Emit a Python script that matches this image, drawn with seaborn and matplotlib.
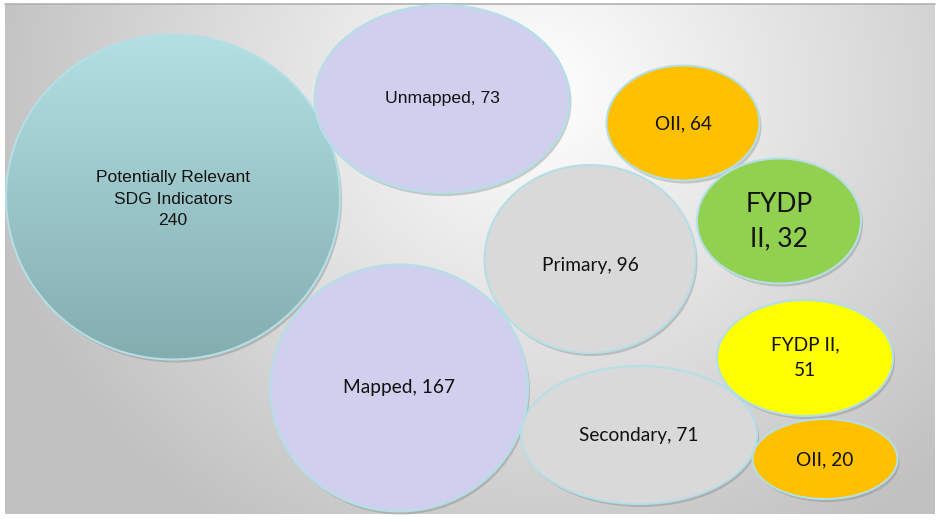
import matplotlib.pyplot as plt
import seaborn as sns
import numpy as np
from matplotlib.patches import Ellipse

# ---- data ----
names = ["Potentially Relevant\nSDG Indicators", "Unmapped", "Mapped",
         "Primary", "Secondary", "OII", "FYDP\nII", "FYDP II", "OII"]
values = [240, 73, 167, 96, 71, 64, 32, 51, 20]
separators = ["\n", ", ", ", ", ", ", ", ", ", ", ", ", ",\n", ", "]

# ---- styling / layout (pixel space) ----
fills = [None, "#d0d0ee", "#d0d0ee", "#d9d9d9", "#d9d9d9",
         "#ffc000", "#92d050", "#ffff00", "#ffc000"]
centers = [(173, 197), (442, 99), (399, 388), (590, 259), (639, 435),
           (683, 123), (779, 221), (805, 358), (825, 459)]
sizes = [(334, 325), (255, 188), (258, 247), (211, 188), (236, 138),
         (153, 115), (164, 125), (176, 116), (145, 80)]
text_offsets = [2, 0, 0, 6, 0, 1, 1, 0, 1]
fonts = ["Liberation Sans", "Liberation Sans", "Lato", "Lato", "Lato",
         "Lato", "Lato", "Lato", "Lato"]
font_sizes = [12.6, 12.6, 13.8, 13.8, 13.8, 13.6, 19, 13.8, 13.8]
line_gaps = [1.57, 1.2, 1.2, 1.2, 1.2, 1.2, 1.47, 1.63, 1.2]

sns.set_theme(style="white")
plt.rcParams['font.family'] = ['Lato', 'DejaVu Sans']

W, H = 938, 522
fig = plt.figure(figsize=(W / 100, H / 100), dpi=100)
ax = fig.add_axes([0, 0, 1, 1])
ax.set_xlim(0, W)
ax.set_ylim(H, 0)
ax.axis("off")

# background panel with radial grey gradient
px0, px1, py0, py1 = 5, 935, 4, 514
yy, xx = np.mgrid[py0:py1, px0:px1]
d = np.sqrt(((xx - 540) / 560.0) ** 2 + ((yy - 90) / 520.0) ** 2)
shade = np.clip(1.0 - 0.24 * d, 0.76, 1.0)
bg = np.dstack([shade, shade, shade])
ax.imshow(bg, extent=(px0, px1, py1, py0), zorder=0, interpolation="bilinear")
ax.plot([px0, px1], [py0, py0], color="#b0b0b0", lw=1.2, zorder=1)

edge = "#b4dfe6"
for i, (c, (w, h)) in enumerate(zip(centers, sizes)):
    # drop shadow
    ax.add_patch(Ellipse((c[0] + 2, c[1] + 3), w, h, facecolor="#7a7a7a",
                         edgecolor="none", alpha=0.35, zorder=2 + i * 3))
    if fills[i] is None:
        # vertical teal gradient clipped to the ellipse
        grad = np.linspace(0, 1, 256)[:, None]
        top = np.array([0.698, 0.878, 0.890])
        bot = np.array([0.518, 0.678, 0.690])
        img = top + (bot - top) * grad[..., None]
        img = np.repeat(img, 2, axis=1)
        x0, y0 = c[0] - w / 2, c[1] - h / 2
        im = ax.imshow(img, extent=(x0, x0 + w, y0 + h, y0), zorder=3 + i * 3,
                       interpolation="bilinear")
        clip = Ellipse(c, w, h, transform=ax.transData)
        im.set_clip_path(clip)
        ax.add_patch(Ellipse(c, w, h, facecolor="none", edgecolor=edge,
                             lw=1.5, zorder=4 + i * 3))
    else:
        ax.add_patch(Ellipse(c, w, h, facecolor=fills[i], edgecolor=edge,
                             lw=1.5, zorder=3 + i * 3))
    ax.text(c[0], c[1] + text_offsets[i], f"{names[i]}{separators[i]}{values[i]}",
            ha="center", va="center", fontsize=font_sizes[i],
            family=[fonts[i], "DejaVu Sans"], color="#111111",
            linespacing=line_gaps[i], zorder=40)

plt.savefig("out.png", dpi=100)
plt.close()
